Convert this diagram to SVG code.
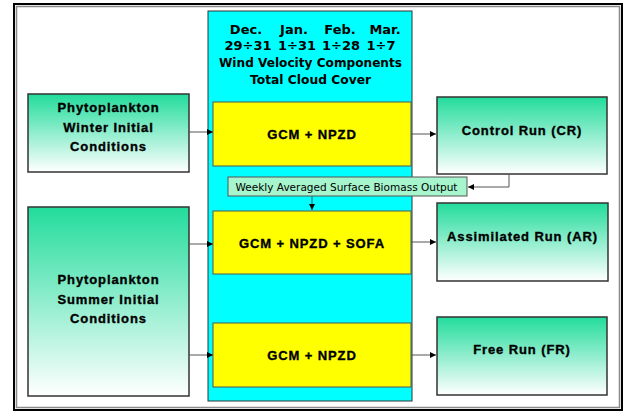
<svg xmlns="http://www.w3.org/2000/svg" width="626" height="412" viewBox="0 0 626 412">
<defs>
<linearGradient id="g" x1="0" y1="0" x2="0" y2="1">
<stop offset="0" stop-color="#22dc9c"/>
<stop offset="1" stop-color="#ffffff"/>
</linearGradient>
<marker id="ah" viewBox="0 0 10 10" refX="10" refY="5" markerWidth="6" markerHeight="6" markerUnits="userSpaceOnUse" orient="auto">
<path d="M0,0 L10,5 L0,10 z" fill="#000"/>
</marker>
<style>
.gbox{fill:url(#g);stroke:#333;stroke-width:1.5}
.ybox{fill:#ffff00;stroke:#555;stroke-width:1}
.bt{font-family:"Liberation Sans",Arial,sans-serif;font-weight:bold;font-size:13px;letter-spacing:0.9px;fill:#000;stroke:#000;stroke-width:0.35px;text-anchor:middle}
.ht{font-family:"DejaVu Sans",Verdana,sans-serif;font-weight:bold;font-size:13px;fill:#000;text-anchor:middle}
.con{stroke:#555;stroke-width:1;fill:none;marker-end:url(#ah)}
</style>
</defs>
<rect x="0" y="0" width="626" height="412" fill="#fff"/>
<rect x="14" y="4" width="608" height="406" fill="#fff" stroke="#000" stroke-width="2"/>
<rect x="16.5" y="6.5" width="603" height="401" fill="none" stroke="#8a8a8a" stroke-width="1.5"/>

<g id="forcing">
<rect x="208" y="11" width="204" height="390" fill="#00ffff" stroke="#333" stroke-width="1"/>
<text class="ht" x="246" y="34">Dec.</text>
<text class="ht" x="294" y="34">Jan.</text>
<text class="ht" x="340" y="34">Feb.</text>
<text class="ht" x="385" y="34">Mar.</text>
<text class="ht" x="248" y="50">29÷31</text>
<text class="ht" x="297" y="50">1÷31</text>
<text class="ht" x="341" y="50">1÷28</text>
<text class="ht" x="381" y="50">1÷7</text>
<text class="ht" x="310.5" y="67" textLength="183" lengthAdjust="spacingAndGlyphs">Wind Velocity Components</text>
<text class="ht" x="310.5" y="84" textLength="121" lengthAdjust="spacingAndGlyphs">Total Cloud Cover</text>
</g>

<g id="model1">
<rect class="ybox" x="213" y="102" width="198" height="64"/>
<text class="bt" x="312" y="139">GCM + NPZD</text>
</g>
<g id="model2">
<rect class="ybox" x="213" y="211" width="198" height="63"/>
<text class="bt" x="312" y="248">GCM + NPZD + SOFA</text>
</g>
<g id="model3">
<rect class="ybox" x="213" y="323" width="198" height="64"/>
<text class="bt" x="312" y="360">GCM + NPZD</text>
</g>

<g id="winter">
<rect class="gbox" x="28" y="94" width="161" height="78"/>
<text class="bt" x="108.5" y="112">Phytoplankton</text>
<text class="bt" x="108.5" y="132">Winter Initial</text>
<text class="bt" x="108.5" y="151">Conditions</text>
</g>
<g id="summer">
<rect class="gbox" x="28" y="207" width="161" height="189"/>
<text class="bt" x="108.5" y="284">Phytoplankton</text>
<text class="bt" x="108.5" y="304">Summer Initial</text>
<text class="bt" x="108.5" y="323">Conditions</text>
</g>

<g id="cr">
<rect class="gbox" x="437" y="97" width="170" height="77"/>
<text class="bt" x="522" y="135">Control Run (CR)</text>
</g>
<g id="ar">
<rect class="gbox" x="437" y="203" width="171" height="78"/>
<text class="bt" x="522.5" y="241">Assimilated Run (AR)</text>
</g>
<g id="fr">
<rect class="gbox" x="437" y="317" width="170" height="78"/>
<text class="bt" x="522" y="354">Free Run (FR)</text>
</g>

<g id="weekly">
<rect x="228" y="177" width="239" height="19" fill="#a6f5cc" stroke="#555" stroke-width="1"/>
<text x="346.5" y="191" font-family="'DejaVu Sans',Verdana,sans-serif" font-size="10.5" text-anchor="middle" textLength="222" lengthAdjust="spacingAndGlyphs" fill="#000">Weekly Averaged Surface Biomass Output</text>
</g>

<g id="connectors">
<path class="con" d="M189,132 H213"/>
<path class="con" d="M189,244 H213"/>
<path class="con" d="M189,355 H213"/>
<path class="con" d="M411,134 H436"/>
<path class="con" d="M411,242 H436"/>
<path class="con" d="M411,355 H436"/>
<path class="con" d="M509,174 V187 H468"/>
<path class="con" d="M312,196 V210"/>
</g>
</svg>
